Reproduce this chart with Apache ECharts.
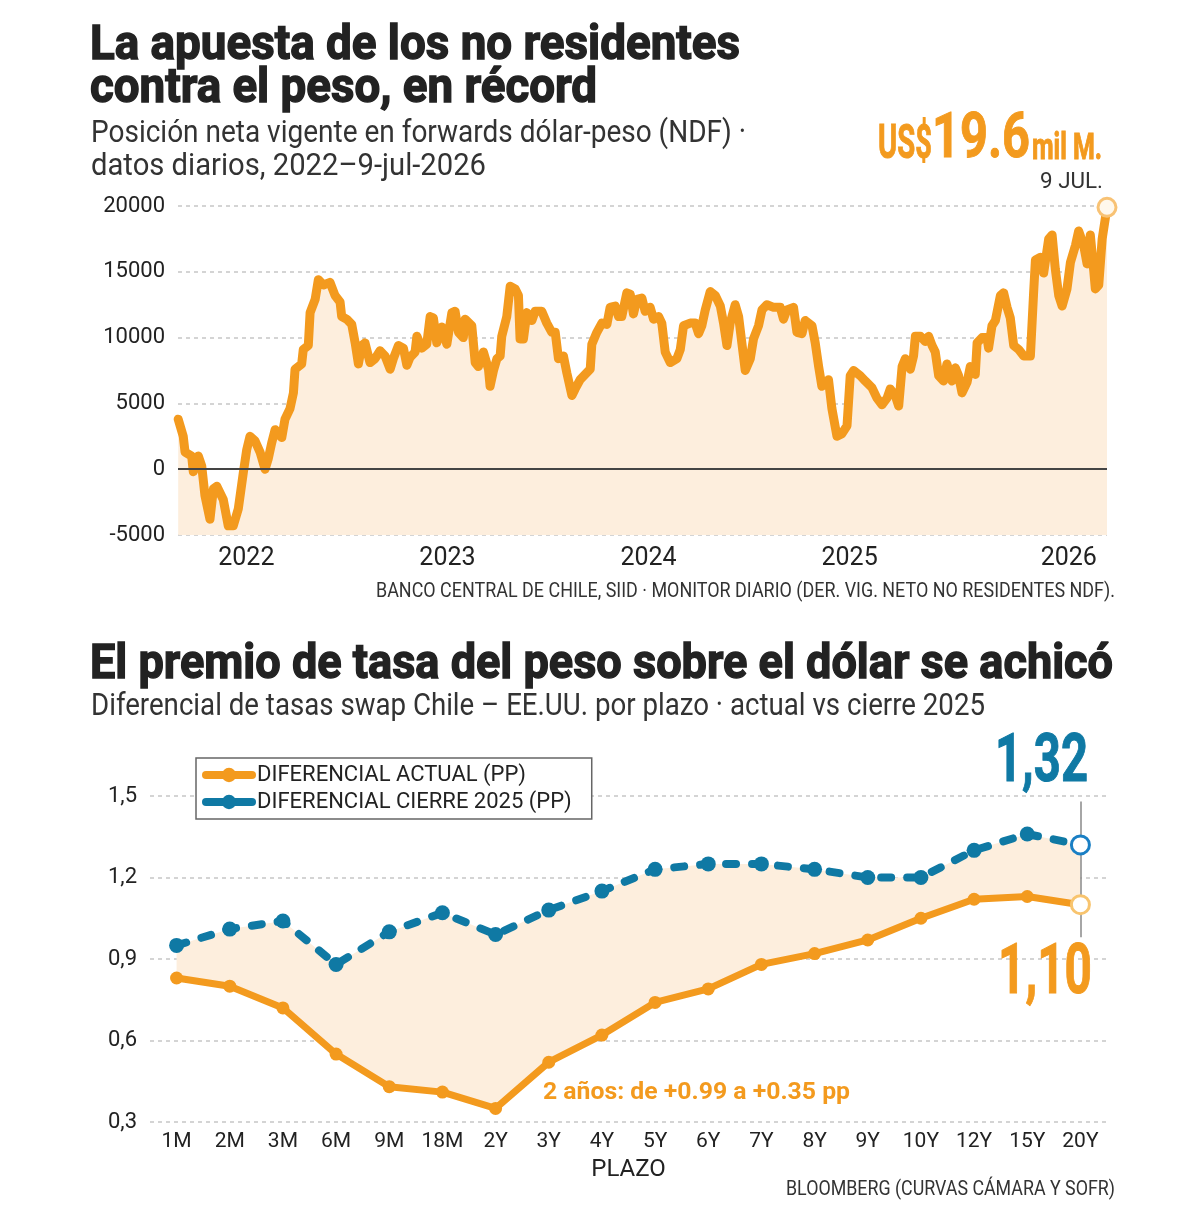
<!DOCTYPE html>
<html>
<head>
<meta charset="utf-8">
<script src="https://cdn.jsdelivr.net/npm/echarts@6/dist/echarts.min.js"></script>
<style>
html, body { margin: 0; padding: 0; background: #fff; }
#chart { width: 1200px; height: 1212px; }
</style>
</head>
<body>
<div id="chart"></div>
<script>
// Posición neta NDF no residentes (millones de US$), fecha en años decimales
var fechas = [2021.901, 2021.926, 2021.935, 2021.968, 2021.976, 2022.001, 2022.018, 2022.034, 2022.059, 2022.076,
  2022.093, 2022.125, 2022.150, 2022.175, 2022.200, 2022.225, 2022.242, 2022.258, 2022.283, 2022.308,
  2022.333, 2022.349, 2022.366, 2022.383, 2022.416, 2022.432, 2022.457, 2022.474, 2022.482, 2022.515,
  2022.523, 2022.548, 2022.557, 2022.582, 2022.598, 2022.623, 2022.656, 2022.681, 2022.706, 2022.714,
  2022.739, 2022.764, 2022.781, 2022.797, 2022.814, 2022.830, 2022.855, 2022.880, 2022.905, 2022.930,
  2022.955, 2022.971, 2022.996, 2023.021, 2023.038, 2023.054, 2023.079, 2023.088, 2023.112, 2023.137,
  2023.154, 2023.170, 2023.187, 2023.212, 2023.237, 2023.262, 2023.278, 2023.295, 2023.319, 2023.328,
  2023.361, 2023.378, 2023.394, 2023.419, 2023.444, 2023.452, 2023.469, 2023.486, 2023.502, 2023.510,
  2023.535, 2023.552, 2023.577, 2023.593, 2023.601, 2023.618, 2023.635, 2023.660, 2023.676, 2023.709,
  2023.734, 2023.759, 2023.776, 2023.792, 2023.817, 2023.834, 2023.859, 2023.875, 2023.900, 2023.925,
  2023.950, 2023.958, 2023.983, 2024.008, 2024.033, 2024.049, 2024.074, 2024.091, 2024.107, 2024.132,
  2024.149, 2024.165, 2024.182, 2024.207, 2024.223, 2024.248, 2024.265, 2024.290, 2024.306, 2024.323,
  2024.348, 2024.381, 2024.398, 2024.414, 2024.447, 2024.472, 2024.489, 2024.505, 2024.522, 2024.547,
  2024.572, 2024.597, 2024.613, 2024.630, 2024.646, 2024.671, 2024.688, 2024.704, 2024.721, 2024.746,
  2024.762, 2024.787, 2024.804, 2024.829, 2024.862, 2024.895, 2024.911, 2024.928, 2024.961, 2024.978,
  2025.003, 2025.019, 2025.053, 2025.069, 2025.086, 2025.102, 2025.135, 2025.152, 2025.177, 2025.202,
  2025.227, 2025.243, 2025.260, 2025.293, 2025.318, 2025.351, 2025.376, 2025.401, 2025.426, 2025.442,
  2025.467, 2025.484, 2025.501, 2025.517, 2025.542, 2025.558, 2025.567, 2025.592, 2025.616, 2025.633,
  2025.650, 2025.666, 2025.683, 2025.707, 2025.724, 2025.749, 2025.766, 2025.782, 2025.799, 2025.824,
  2025.840, 2025.865, 2025.874, 2025.899, 2025.923, 2025.931, 2025.948, 2025.965, 2025.990, 2026.006,
  2026.023, 2026.039, 2026.056, 2026.081, 2026.106, 2026.139, 2026.155, 2026.164, 2026.189, 2026.205,
  2026.230, 2026.247, 2026.263, 2026.280, 2026.297, 2026.321, 2026.338, 2026.363, 2026.379, 2026.404,
  2026.421, 2026.437, 2026.454, 2026.462, 2026.479, 2026.496, 2026.520];
var ndf = [3800, 2500, 1300, 1000, -200, 1000, 250, -2000, -3800, -1500,
  -1300, -2300, -4300, -4300, -3000, -250, 1500, 2500, 2150, 1300,
  0, 800, 2000, 3000, 2400, 3800, 4600, 5800, 7600, 8000,
  9100, 9400, 11900, 12900, 14400, 14000, 14200, 13200, 12700, 11600,
  11400, 11000, 9600, 8000, 9400, 9600, 8100, 8400, 9000, 8600,
  7600, 8400, 9400, 9200, 7900, 8500, 8900, 10100, 9200, 9500,
  11600, 11500, 9600, 10800, 9500, 11900, 12000, 10400, 10000, 11400,
  10900, 8100, 7800, 8900, 7600, 6300, 7500, 8400, 8600, 10100,
  11600, 13900, 13700, 13200, 9900, 9900, 11900, 11300, 12000, 12000,
  11100, 10400, 10400, 8400, 8600, 7300, 5600, 6100, 6800, 7200,
  7600, 9500, 10400, 11100, 11000, 12300, 12400, 11600, 11600, 13400,
  13300, 11800, 12900, 13000, 12000, 12300, 11400, 11600, 11100, 8900,
  8100, 8400, 9100, 10900, 11100, 11100, 10300, 10900, 12100, 13500,
  13200, 12400, 11100, 9400, 11100, 12500, 11600, 9600, 7500, 8400,
  9900, 10900, 12100, 12500, 12300, 12300, 11400, 12100, 12300, 10400,
  10300, 11300, 10900, 9600, 7800, 6300, 6800, 4600, 2500, 2700,
  3300, 7100, 7500, 7100, 6700, 6200, 5400, 4900, 5400, 6100,
  5600, 4800, 7800, 8400, 7600, 8600, 10100, 10100, 9700, 10100,
  9400, 8900, 7100, 6700, 8000, 6700, 7700, 7100, 5800, 6600,
  7800, 7200, 9600, 10000, 10000, 9200, 10900, 11300, 13200, 13400,
  12300, 11500, 9400, 9100, 8600, 8600, 13400, 15900, 16100, 14900,
  17500, 17800, 15200, 13200, 12400, 13700, 15700, 17000, 18100, 17000,
  15600, 17800, 15100, 13700, 14000, 17500, 19900];
var posAnios = [2022.24, 2023.24, 2024.24, 2025.24, 2026.33];
var etiquetasAnios = ['2022', '2023', '2024', '2025', '2026'];

// Diferencial de tasas swap Chile - EE.UU. (pp)
var plazos = ['1M', '2M', '3M', '6M', '9M', '18M', '2Y', '3Y', '4Y', '5Y', '6Y', '7Y', '8Y', '9Y', '10Y', '12Y', '15Y', '20Y'];
var actual = [0.83, 0.80, 0.72, 0.55, 0.43, 0.41, 0.35, 0.52, 0.62, 0.74, 0.79, 0.88, 0.92, 0.97, 1.05, 1.12, 1.13, 1.10];
var cierre = [0.95, 1.01, 1.04, 0.88, 1.00, 1.07, 0.99, 1.08, 1.15, 1.23, 1.25, 1.25, 1.23, 1.20, 1.20, 1.30, 1.36, 1.32];

var NARANJA = '#f39a1e';
var AZUL = '#0f79a4';
var RELLENO = '#fdeedd';
var FUENTE = 'Roboto';

var myChart = echarts.init(document.getElementById('chart'));

// texto ajustado a un ancho dado (fuente condensada)
var medidor = document.createElement('canvas').getContext('2d');
function texto(t, x, y, size, weight, color, ancho, grosor) {
    var font = weight + ' ' + size + 'px ' + FUENTE;
    medidor.font = font;
    var s = ancho / medidor.measureText(t).width;
    var estilo = {
        text: t, font: font, fill: color,
        align: 'left', verticalAlign: 'middle',
        textAlign: 'left', textVerticalAlign: 'middle'
    };
    if (grosor) {
        estilo.stroke = color;
        estilo.lineWidth = grosor;
    }
    return { type: 'text', x: x, y: y, scaleX: s, z: 100, style: estilo };
}

var ultimo = plazos.length - 1;
var diferencia = cierre.map(function (v, i) { return +(v - actual[i]).toFixed(2); });

var option = {
    animation: false,
    textStyle: { fontFamily: FUENTE },
    graphic: [
        texto('La apuesta de los no residentes', 90, 47, 48, 'bold', '#222', 650, 1.4),
        texto('contra el peso, en récord', 90, 90, 48, 'bold', '#222', 507, 1.4),
        texto('Posición neta vigente en forwards dólar-peso (NDF) ·', 91, 134, 32, 'normal', '#333', 655),
        texto('datos diarios, 2022–9-jul-2026', 91, 167, 32, 'normal', '#333', 395),
        texto('US$', 878, 146, 49, 'bold', NARANJA, 54, 1),
        texto('19.6', 932, 141, 63, 'bold', NARANJA, 98, 1),
        texto('mil M.', 1032, 150, 37, 'bold', NARANJA, 70, 1),
        texto('9 JUL.', 1040, 182, 22, 'normal', '#333', 63),
        texto('BANCO CENTRAL DE CHILE, SIID · MONITOR DIARIO (DER. VIG. NETO NO RESIDENTES NDF).', 376, 592, 20, 'normal', '#333', 739),
        texto('El premio de tasa del peso sobre el dólar se achicó', 90, 666, 49, 'bold', '#222', 1023, 1.4),
        texto('Diferencial de tasas swap Chile – EE.UU. por plazo · actual vs cierre 2025', 91, 707, 31, 'normal', '#333', 894),
        texto(cierre[ultimo].toFixed(2).replace('.', ','), 995, 764, 66, 'bold', AZUL, 93, 1),
        texto(actual[ultimo].toFixed(2).replace('.', ','), 998, 975, 70, 'bold', NARANJA, 94, 1),
        texto('2 años: de +0.99 a +0.35 pp', 543, 1093, 24, 'bold', NARANJA, 307),
        texto('BLOOMBERG (CURVAS CÁMARA Y SOFR)', 786, 1190, 20, 'normal', '#333', 329)
    ],
    legend: {
        data: ['DIFERENCIAL ACTUAL (PP)', 'DIFERENCIAL CIERRE 2025 (PP)'],
        orient: 'vertical',
        left: 196,
        top: 758,
        itemGap: 5,
        itemWidth: 46,
        itemHeight: 18,
        padding: [6, 20, 6, 6],
        borderColor: '#666',
        borderWidth: 1.5,
        backgroundColor: '#fff',
        lineStyle: { width: 8, cap: 'round', type: 'solid' },
        textStyle: { fontSize: 22, color: '#222', fontFamily: FUENTE }
    },
    grid: [
        { left: 178, right: 93, top: 206, height: 329 },
        { left: 150, right: 93, top: 796, height: 326 }
    ],
    xAxis: [{
        gridIndex: 0,
        type: 'value',
        min: 2021.9,
        max: 2026.52,
        axisLine: { show: false },
        axisTick: { show: false },
        splitLine: { show: false },
        axisLabel: {
            customValues: posAnios,
            formatter: function (v) {
                var i = posAnios.indexOf(v);
                return i >= 0 ? etiquetasAnios[i] : '';
            },
            fontSize: 25,
            color: '#222',
            margin: 11
        }
    }, {
        gridIndex: 1,
        type: 'category',
        data: plazos,
        boundaryGap: true,
        axisLine: { show: false },
        axisTick: { show: false },
        axisLabel: { interval: 0, fontSize: 21, color: '#222', margin: 9 },
        name: 'PLAZO',
        nameLocation: 'middle',
        nameGap: 36,
        nameTextStyle: { fontSize: 24, color: '#222' }
    }],
    yAxis: [{
        gridIndex: 0,
        type: 'value',
        min: -5000,
        max: 20000,
        interval: 5000,
        axisLine: { show: false },
        axisTick: { show: false },
        axisLabel: {
            fontSize: 22, color: '#222', margin: 13,
            formatter: function (v) { return String(v); }
        },
        splitLine: { lineStyle: { type: [4, 4], color: '#c6c6c6', width: 1.5 } }
    }, {
        gridIndex: 1,
        type: 'value',
        min: 0.3,
        max: 1.5,
        interval: 0.3,
        axisLine: { show: false },
        axisTick: { show: false },
        axisLabel: {
            fontSize: 22, color: '#222', margin: 13,
            formatter: function (v) { return v.toFixed(1).replace('.', ','); }
        },
        splitLine: { lineStyle: { type: [4, 4], color: '#c6c6c6', width: 1.5 } }
    }],
    series: [{
        name: 'NDF',
        type: 'line',
        xAxisIndex: 0,
        yAxisIndex: 0,
        data: fechas.map(function (f, i) { return [f, ndf[i]]; }),
        showSymbol: false,
        lineStyle: { color: NARANJA, width: 9, cap: 'round', join: 'round' },
        areaStyle: { color: RELLENO, origin: 'start', opacity: 1 },
        z: 3,
        markLine: {
            silent: true,
            symbol: 'none',
            label: { show: false },
            lineStyle: { color: '#444', width: 2, type: 'solid' },
            data: [{ yAxis: 0 }]
        }
    }, {
        name: 'ultimo NDF',
        type: 'scatter',
        xAxisIndex: 0,
        yAxisIndex: 0,
        data: [[fechas[fechas.length - 1], ndf[ndf.length - 1]]],
        symbolSize: 18,
        itemStyle: { color: '#fff8ec', borderColor: '#f8c274', borderWidth: 3, opacity: 1 },
        z: 5
    }, {
        name: 'base',
        type: 'line',
        xAxisIndex: 1,
        yAxisIndex: 1,
        stack: 'banda',
        data: actual,
        symbol: 'none',
        lineStyle: { opacity: 0 },
        silent: true,
        z: 1
    }, {
        name: 'banda',
        type: 'line',
        xAxisIndex: 1,
        yAxisIndex: 1,
        stack: 'banda',
        data: diferencia,
        symbol: 'none',
        lineStyle: { opacity: 0 },
        areaStyle: { color: RELLENO, opacity: 1 },
        silent: true,
        z: 1
    }, {
        name: 'DIFERENCIAL ACTUAL (PP)',
        type: 'line',
        xAxisIndex: 1,
        yAxisIndex: 1,
        data: actual,
        symbol: 'circle',
        symbolSize: 13,
        color: NARANJA,
        lineStyle: { color: NARANJA, width: 7 },
        itemStyle: { color: NARANJA },
        z: 4
    }, {
        name: 'DIFERENCIAL CIERRE 2025 (PP)',
        type: 'line',
        xAxisIndex: 1,
        yAxisIndex: 1,
        data: cierre,
        symbol: 'circle',
        symbolSize: 15,
        color: AZUL,
        lineStyle: { color: AZUL, width: 8, type: [10, 16], cap: 'round' },
        itemStyle: { color: AZUL },
        z: 4
    }, {
        name: 'extremos',
        type: 'scatter',
        xAxisIndex: 1,
        yAxisIndex: 1,
        data: [
            { value: [ultimo, cierre[ultimo]], itemStyle: { color: '#fff', borderColor: '#1a7fc4', borderWidth: 3, opacity: 1 } },
            { value: [ultimo, actual[ultimo]], itemStyle: { color: '#fff', borderColor: '#f8c46e', borderWidth: 3, opacity: 1 } }
        ],
        symbolSize: 18,
        z: 6,
        markLine: {
            silent: true,
            symbol: 'none',
            label: { show: false },
            lineStyle: { color: '#888', width: 1.5, type: 'solid' },
            data: [[{ coord: [ultimo, 1.48] }, { coord: [ultimo, 0.98] }]]
        }
    }]
};
myChart.setOption(option);
window.addEventListener('resize', function () {
    myChart.resize();
});
</script>
</body>
</html>
